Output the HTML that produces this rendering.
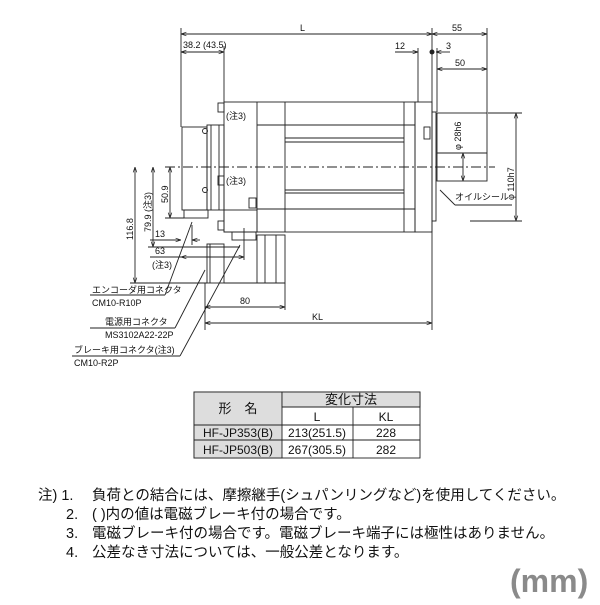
<!DOCTYPE html>
<html><head><meta charset="utf-8"><style>
body{margin:0;background:#fff;width:600px;height:600px;overflow:hidden;font-family:"Liberation Sans","Noto Sans CJK JP",sans-serif}
</style></head><body>
<svg width="600" height="600" viewBox="0 0 600 600" xmlns="http://www.w3.org/2000/svg" font-family="Liberation Sans, Noto Sans CJK JP, sans-serif">
<defs><marker id="a" markerWidth="6" markerHeight="6" refX="6" refY="3" orient="auto-start-reverse"><path d="M0,1 L6,3 L0,5" fill="none" stroke="#222" stroke-width="0.8"/></marker></defs>
<g stroke="#222" stroke-width="0.9" fill="none">
<rect x="224" y="102" width="191" height="130"/>
<line x1="257" y1="102" x2="257" y2="232"/><line x1="285" y1="102" x2="285" y2="232"/>
<line x1="257" y1="125" x2="415" y2="125"/><line x1="285" y1="138" x2="404" y2="138"/><line x1="285" y1="142" x2="404" y2="142"/>
<line x1="285" y1="190" x2="404" y2="190"/><line x1="285" y1="193" x2="404" y2="193"/><line x1="257" y1="209" x2="415" y2="209"/>
<line x1="404" y1="102" x2="404" y2="232"/>
<rect x="415" y="102" width="17" height="130"/>
<rect x="424" y="127" width="6" height="12"/>
<rect x="432" y="112" width="4" height="109"/>
<rect x="437" y="113" width="50" height="68"/><line x1="437" y1="153" x2="487" y2="153"/>
<rect x="182" y="127" width="25" height="83"/>
<rect x="207" y="125" width="17" height="85"/><line x1="211" y1="125" x2="211" y2="210"/><line x1="219" y1="125" x2="219" y2="210"/>
<rect x="218" y="103" width="6" height="9"/><rect x="218" y="176" width="6" height="9"/><rect x="249" y="198" width="7" height="10"/>
<circle cx="205" cy="131" r="2.5"/><circle cx="205" cy="190" r="2.5"/>
<rect x="184" y="210" width="24" height="8"/>
<rect x="224" y="210" width="33" height="22"/>
<rect x="218" y="221" width="6" height="9"/>
<rect x="232" y="232" width="24" height="8"/>
<rect x="207" y="244" width="17" height="39"/><line x1="210" y1="244" x2="210" y2="283"/>
<rect x="257" y="235" width="28" height="48"/>
<line x1="265" y1="235" x2="265" y2="283"/><line x1="276" y1="235" x2="276" y2="283"/>
<line x1="224" y1="283" x2="285" y2="283"/>
<line x1="165" y1="167" x2="495" y2="167" stroke-dasharray="10,3,2,3"/>
<line x1="181" y1="28" x2="181" y2="127"/><line x1="224" y1="46" x2="224" y2="102"/>
<line x1="432" y1="28" x2="432" y2="330"/><line x1="487" y1="28" x2="487" y2="113"/>
<line x1="418" y1="48" x2="418" y2="102"/><line x1="437" y1="48" x2="437" y2="112"/>
<line x1="488" y1="113" x2="522" y2="113"/><line x1="470" y1="221" x2="522" y2="221"/>
<line x1="205" y1="283" x2="205" y2="330"/><line x1="285" y1="283" x2="285" y2="310"/>
<line x1="130" y1="283" x2="207" y2="283"/><line x1="148" y1="247" x2="240" y2="247"/><line x1="165" y1="218" x2="184" y2="218"/>
<line x1="181" y1="34" x2="432" y2="34" marker-start="url(#a)" marker-end="url(#a)"/>
<line x1="432" y1="34" x2="487" y2="34" marker-start="url(#a)" marker-end="url(#a)"/>
<line x1="181" y1="52" x2="224" y2="52" marker-start="url(#a)" marker-end="url(#a)"/>
<line x1="395" y1="52" x2="418" y2="52" marker-end="url(#a)"/><line x1="450" y1="52" x2="436" y2="52" marker-end="url(#a)"/>
<line x1="437" y1="69" x2="487" y2="69" marker-start="url(#a)" marker-end="url(#a)"/>
<line x1="516" y1="113" x2="516" y2="221" marker-start="url(#a)" marker-end="url(#a)"/>
<line x1="463" y1="153" x2="463" y2="181" marker-start="url(#a)" marker-end="url(#a)"/>
<line x1="205" y1="323" x2="432" y2="323" marker-start="url(#a)" marker-end="url(#a)"/>
<line x1="205" y1="307" x2="285" y2="307" marker-start="url(#a)" marker-end="url(#a)"/>
<line x1="135" y1="167" x2="135" y2="283" marker-start="url(#a)" marker-end="url(#a)"/>
<line x1="153" y1="167" x2="153" y2="247" marker-start="url(#a)" marker-end="url(#a)"/>
<line x1="170" y1="167" x2="170" y2="218" marker-start="url(#a)" marker-end="url(#a)"/>
<line x1="150" y1="240" x2="181" y2="240" marker-end="url(#a)"/><line x1="200" y1="240" x2="192" y2="240" marker-end="url(#a)"/>
<line x1="192" y1="225" x2="192" y2="245"/><line x1="244" y1="228" x2="244" y2="260"/>
<line x1="150" y1="257" x2="181" y2="257"/><line x1="181" y1="257" x2="244" y2="257" marker-start="url(#a)" marker-end="url(#a)"/>
<line x1="90" y1="295" x2="165" y2="295"/><line x1="165" y1="295" x2="192" y2="222"/>
<line x1="90" y1="328" x2="175" y2="328"/><line x1="175" y1="328" x2="205" y2="270"/>
<line x1="72" y1="356" x2="180" y2="356"/><line x1="180" y1="356" x2="240" y2="245"/>
<line x1="440" y1="190" x2="455" y2="205"/><line x1="455" y1="205" x2="512" y2="205"/>
</g>
<circle cx="432" cy="52" r="2.5" fill="#222"/>
<g font-size="9" fill="#111">
<text x="300" y="31">L</text><text x="452" y="31">55</text><text x="183" y="48">38.2 (43.5)</text>
<text x="395" y="49">12</text><text x="446" y="49">3</text><text x="455" y="66">50</text>
<text x="226" y="119">(注3)</text><text x="226" y="184">(注3)</text>
<text x="155" y="237">13</text><text x="155" y="254">63</text><text x="152" y="268">(注3)</text>
<text x="240" y="304">80</text><text x="312" y="320">KL</text>
<text x="455" y="200">オイルシール</text>
<text x="92" y="293">エンコーダ用コネクタ</text><text x="92" y="306">CM10-R10P</text>
<text x="105" y="325">電源用コネクタ</text><text x="105" y="338">MS3102A22-22P</text>
<text x="74" y="353">ブレーキ用コネクタ(注3)</text><text x="74" y="366">CM10-R2P</text>
<text transform="translate(133,240) rotate(-90)">116.8</text>
<text transform="translate(151,232) rotate(-90)">79.9 (注3)</text>
<text transform="translate(168,203) rotate(-90)">50.9</text>
<text transform="translate(461,150) rotate(-90)">φ 28h6</text>
<text transform="translate(514,200) rotate(-90)">φ 110h7</text>
</g>
<g stroke="#222" stroke-width="0.9">
<rect x="194" y="392" width="226" height="66" fill="#fff"/>
<rect x="194" y="392" width="88" height="33" fill="#ddd"/>
<rect x="282" y="392" width="138" height="15" fill="#ddd"/>
<rect x="194" y="425" width="88" height="33" fill="#ddd"/>
<line x1="282" y1="407" x2="420" y2="407"/><line x1="194" y1="425" x2="420" y2="425"/><line x1="194" y1="440" x2="420" y2="440"/>
<line x1="353" y1="407" x2="353" y2="458"/>
</g>
<g font-size="12" fill="#111" text-anchor="middle">
<text x="238" y="413" font-size="13">形　名</text><text x="351" y="404" font-size="13">変化寸法</text>
<text x="317" y="421">L</text><text x="386" y="421">KL</text>
<text x="238" y="437">HF-JP353(B)</text><text x="317" y="437">213(251.5)</text><text x="386" y="437">228</text>
<text x="238" y="454">HF-JP503(B)</text><text x="317" y="454">267(305.5)</text><text x="386" y="454">282</text>
</g>
<g font-size="14.5" fill="#111">
<text x="38" y="500">注) 1.</text><text x="92" y="500">負荷との結合には、摩擦継手(シュパンリングなど)を使用してください。</text>
<text x="66" y="519">2.</text><text x="92" y="519">(  )内の値は電磁ブレーキ付の場合です。</text>
<text x="66" y="538">3.</text><text x="92" y="538">電磁ブレーキ付の場合です。電磁ブレーキ端子には極性はありません。</text>
<text x="66" y="557">4.</text><text x="92" y="557">公差なき寸法については、一般公差となります。</text>
</g>
<text x="510" y="592" font-size="32" font-weight="bold" fill="#8a8a8a">(mm)</text>
</svg>
</body></html>
